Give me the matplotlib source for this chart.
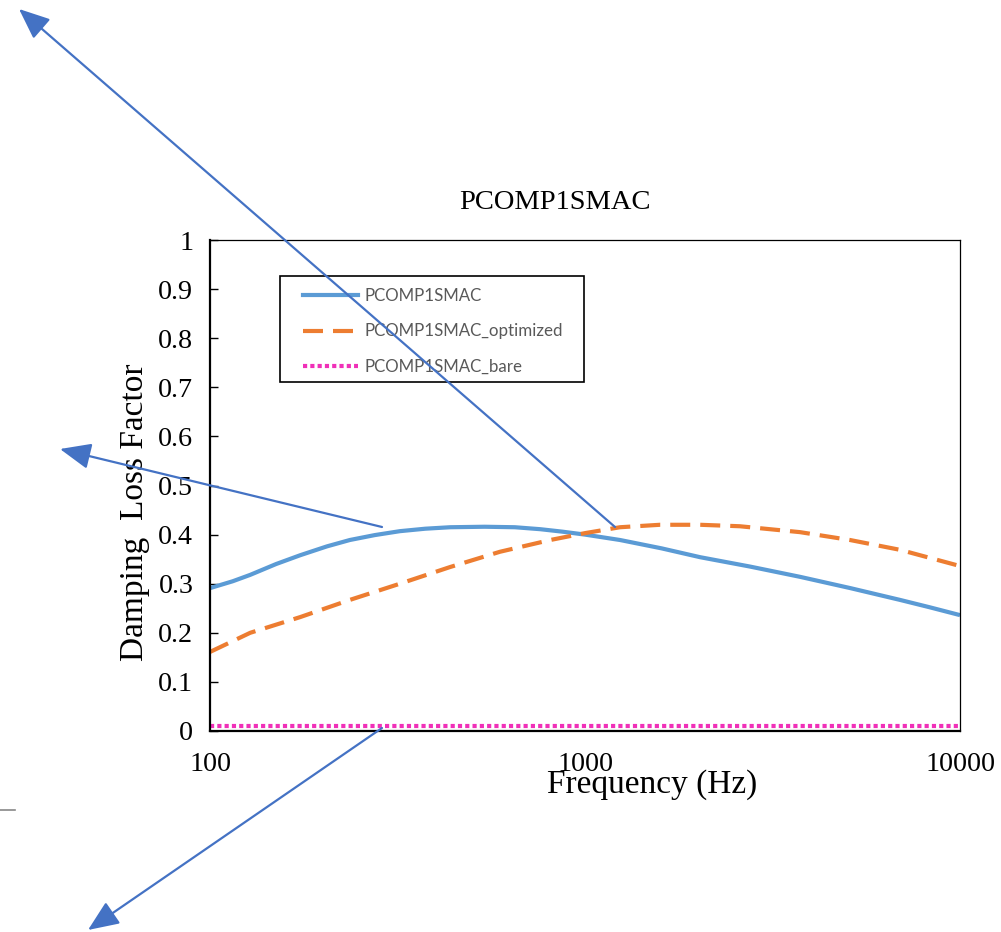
import matplotlib
matplotlib.use("Agg")
import matplotlib.pyplot as plt
from matplotlib.patches import FancyArrowPatch, Rectangle
from matplotlib.lines import Line2D
from matplotlib.transforms import IdentityTransform

# ---------------- data ----------------
title = "PCOMP1SMAC"
series_names = ["PCOMP1SMAC", "PCOMP1SMAC_optimized", "PCOMP1SMAC_bare"]

freq_base = [100, 115, 128, 150, 174, 205, 236, 275, 321, 375, 437, 540, 650, 760, 870, 1000, 1240, 1600, 2027, 2750, 3744, 5100, 6918, 8300, 10000]
loss_base = [0.291, 0.305, 0.318, 0.340, 0.358, 0.376, 0.389, 0.399, 0.407, 0.412, 0.415, 0.416, 0.415, 0.411, 0.406, 0.400, 0.389, 0.372, 0.354, 0.335, 0.314, 0.291, 0.267, 0.252, 0.236]

freq_opt = [100, 128, 174, 236, 321, 437, 593, 808, 1000, 1240, 1585, 2027, 2588, 3744, 5089, 6918, 10000]
loss_opt = [0.161, 0.200, 0.232, 0.267, 0.300, 0.334, 0.365, 0.389, 0.403, 0.415, 0.420, 0.420, 0.417, 0.405, 0.389, 0.369, 0.336]

freq_bare = [100, 10000]
loss_bare = [0.010, 0.010]

x_ticks = [100, 1000, 10000]
x_tick_labels = ["100", "1000", "10000"]
y_ticks = [0, 0.1, 0.2, 0.3, 0.4, 0.5, 0.6, 0.7, 0.8, 0.9, 1]
y_tick_labels = ["0", "0.1", "0.2", "0.3", "0.4", "0.5", "0.6", "0.7", "0.8", "0.9", "1"]

# ---------------- figure ----------------
W, H = 1001, 932
fig = plt.figure(figsize=(W / 100, H / 100), dpi=100)
serif = ["Liberation Serif", "DejaVu Serif"]

L, R, T, B = 210, 960, 240, 731
ax = fig.add_axes([L / W, (H - B) / H, (R - L) / W, (B - T) / H])

blue = "#5B9BD5"
orange = "#ED7D31"
pink = "#F030B8"
orange_dash = (4.8, 2.4)
pink_dash = (1, 0.75)

ax.plot(freq_base, loss_base, color=blue, lw=3, solid_capstyle="butt")
ax.plot(freq_opt, loss_opt, color=orange, lw=3, dashes=orange_dash)
ax.plot(freq_bare, loss_bare, color=pink, lw=3, dashes=pink_dash)

ax.set_xscale("log")
ax.set_xlim(100, 10000)
ax.set_ylim(0, 1)
ax.set_xticks(x_ticks)
ax.set_xticklabels(x_tick_labels)
ax.minorticks_off()
ax.set_yticks(y_ticks)
ax.set_yticklabels(y_tick_labels)

for lab in ax.get_xticklabels() + ax.get_yticklabels():
    lab.set_fontfamily(serif)
    lab.set_fontsize(20.2)

ax.tick_params(axis="x", length=0, pad=15)
ax.tick_params(axis="y", direction="in", length=6, width=1, pad=12, right=False)

for s in ["top", "right"]:
    ax.spines[s].set_linewidth(0.9)
for s in ["left", "bottom"]:
    ax.spines[s].set_linewidth(1.6)

ax.set_title(title, fontfamily=serif, fontsize=20.5, pad=22, x=0.46)
ax.set_xlabel("Frequency (Hz)", fontfamily=serif, fontsize=24)
ax.xaxis.set_label_coords(0.589, -0.078)
ax.set_ylabel("Damping  Loss Factor", fontfamily=serif, fontsize=24)
ax.yaxis.set_label_coords(-0.08, 0.446)

# legend: frame drawn separately so its padding can match
fig.add_artist(Rectangle((280, H - 382), 304, 106, transform=IdentityTransform(),
                         facecolor="white", edgecolor="black", lw=1.2, zorder=3))
handles = [
    Line2D([], [], color=blue, lw=3),
    Line2D([], [], color=orange, lw=3, dashes=orange_dash),
    Line2D([], [], color=pink, lw=3, dashes=pink_dash),
]
leg = fig.legend(handles, series_names, loc="upper left",
                 bbox_to_anchor=(303, H - 288), bbox_transform=IdentityTransform(),
                 prop={"family": ["Lato", "DejaVu Sans"], "size": 12.2},
                 frameon=False, handlelength=3.25, handletextpad=0.4,
                 labelspacing=1.15, borderpad=0, borderaxespad=0)
leg.set_zorder(4)
for t in leg.get_texts():
    t.set_color("#595959")

# ---------------- annotation arrows (figure pixels) ----------------
arrow_col = "#4472C4"
arrows = [((615, 527), (19, 9)), ((382, 527), (60, 449)), ((382, 728), (88, 930))]
for (x0, y0), (x1, y1) in arrows:
    p = FancyArrowPatch((x0, H - y0), (x1, H - y1), transform=IdentityTransform(),
                        arrowstyle="-|>,head_length=19,head_width=8",
                        color=arrow_col, lw=1.6, mutation_scale=1, shrinkA=0, shrinkB=0,
                        zorder=5)
    fig.add_artist(p)

fig.add_artist(Line2D([0, 15], [H - 810, H - 810], transform=IdentityTransform(), color="#888888", lw=1.2))

fig.savefig("out.png", dpi=100)
